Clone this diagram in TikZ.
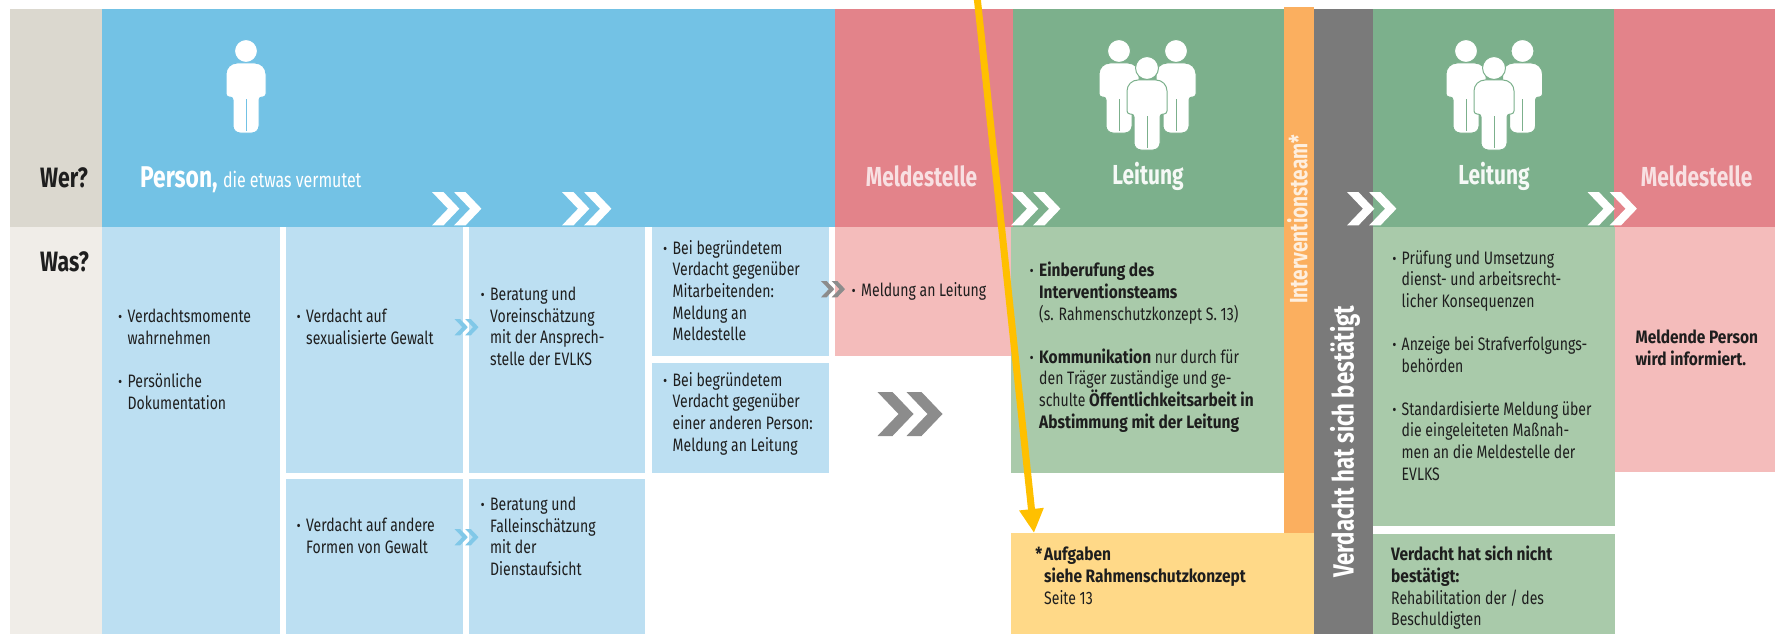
\documentclass[tikz,border=0pt]{standalone}
\usepackage{fontspec}
\setmainfont[FakeStretch=0.78, BoldFeatures={FakeStretch=0.86}]{Fira Sans}
\newfontfamily\labelfont[FakeStretch=0.76]{Fira Sans}
\usetikzlibrary{arrows.meta}

\definecolor{labeltop}{HTML}{DBD8CF}
\definecolor{labellow}{HTML}{F0EDE8}
\definecolor{blueband}{HTML}{73C2E5}
\definecolor{bluelight}{HTML}{BCDFF2}
\definecolor{redband}{HTML}{E3838A}
\definecolor{redlight}{HTML}{F4BCBB}
\definecolor{greenband}{HTML}{7CB08C}
\definecolor{greenlight}{HTML}{A9CAAA}
\definecolor{orangeband}{HTML}{FBAF5F}
\definecolor{greyband}{HTML}{7A7A7A}
\definecolor{yellowbox}{HTML}{FFD988}
\definecolor{goldarrow}{HTML}{FFC000}
\definecolor{chevgrey}{HTML}{8C8C8C}
\definecolor{inktext}{HTML}{1E1E1E}

\newcommand{\bul}{\leavevmode\llap{\textbf{·}\hspace{5.5pt}}}

\tikzset{
	bodytext/.style={anchor=north west, inner sep=0pt, align=left, yshift=8pt, text=inktext,
		font=\fontsize{18}{21.6}\selectfont, execute at begin node=\strut},
	asklabel/.style={anchor=west, inner sep=0pt, text=inktext, font=\labelfont\fontsize{28}{30}\selectfont\bfseries},
	bandlabel/.style={inner sep=0pt, text=white, font=\labelfont\fontsize{27.5}{30}\selectfont\bfseries},
	sidelabel/.style={rotate=90, anchor=west, inner sep=0pt, text=white, font=\labelfont\fontsize{25}{28}\selectfont\bfseries},
	pics/person/.style={code={
		\filldraw[white, draw=#1, line width=1pt] (-20,46) [rounded corners=11pt] -- (-20,12) -- (20,12) [rounded corners=3pt] -- (20,46) -- (13,46) [rounded corners=7pt] -- (13,82) -- (-13,82) [rounded corners=3pt] -- (-13,46) -- cycle;
		\draw[#1, line width=0.8pt] (0,48) -- (0,80);
		\filldraw[white, draw=#1, line width=1pt] (0,0) circle (11.5);
	}},
	pics/chevrons/.style={code={
		\foreach \s in {0, 29}
			\fill[#1] (\s,0) -- ++(15,0) -- ++(21,22) -- ++(-21,22) -- ++(-15,0) -- ++(21,-22) -- cycle;
	}}
}

\begin{document}
\begin{tikzpicture}[x=1pt, y=-1pt]
	\useasboundingbox (0,0) rectangle (1775,634);

	\fill[labeltop] (10,9) rectangle +(92,218);
	\fill[labellow] (10,227) rectangle +(92,407);
	\fill[blueband] (102,9) rectangle +(733,218);
	\foreach \px/\pw in {835/178, 1614/161}
		\fill[redband] (\px,9) rectangle +(\pw,218);
	\foreach \px/\pw in {1012.5/272, 1373/241}
		\fill[greenband] (\px,9) rectangle +(\pw,218);
	\foreach \px/\py/\pw/\ph in {102/227/177.5/407, 285.5/227/177.5/246, 469/227/176/246, 285.5/479/177.5/155, 469/479/176/155, 652/227/177/129, 652/363/177/110}
		\fill[bluelight] (\px,\py) rectangle +(\pw,\ph);
	\foreach \px/\pw/\ph in {835/176/129, 1614/161/245}
		\fill[redlight] (\px,227) rectangle +(\pw,\ph);
	\foreach \px/\py/\pw/\ph in {1011/227/273/246, 1373/227/241.5/299, 1373/534/241.5/100}
		\fill[greenlight] (\px,\py) rectangle +(\pw,\ph);
	\fill[orangeband] (1284,7) rectangle +(30,527);
	\fill[greyband] (1314,9) rectangle +(59,625);
	\node (aufgabenbox) [anchor=north west, inner sep=0pt, outer sep=0pt, fill=yellowbox, minimum width=303pt, minimum height=101pt] at (1011,533) {};

	\pic at (246,51) {person=blueband};
	\foreach \px/\py in {1119/51, 1176/51, 1147/68}
		\pic at (\px,\py) {person=greenband};
	\foreach \px/\py in {1466/51, 1522.5/51, 1494/68}
		\pic at (\px,\py) {person=greenband};

	\foreach \px in {432, 562, 1011, 1347, 1587.5}
		\pic[scale=0.76] at (\px,192) {chevrons=white};
	\foreach \py in {319, 529}
		\pic[scale=0.37] at (454.5,\py) {chevrons=blueband!90!white};
	\pic[scale=0.37] at (821,281) {chevrons=chevgrey};
	\pic at (877.5,392) {chevrons=chevgrey};

	\node (wer) [asklabel] at (40,178) {Wer?};
	\node (was) [asklabel] at (40,262) {Was?};
	\node (person) [bandlabel, anchor=base west, font=\labelfont\fontsize{30}{32}\selectfont\bfseries] at (140,187) {Person, \fontsize{21}{24}\selectfont\mdseries die etwas vermutet};
	\node (meldung) [bandlabel, text=white!75!redband] at (921.5,176) {Meldestelle};
	\node (leitung) [bandlabel, text=white!92!greenband] at (1148,176) {Leitung};
	\node (leitungb) [bandlabel, text=white!92!greenband] at (1494,176) {Leitung};
	\node (meldungb) [bandlabel, text=white!75!redband] at (1696.6,176) {Meldestelle};
	\node (team) [sidelabel, text=white!80!orangeband] at (1297.5,304) {Interventionsteam*};
	\node (bestaetigt) [sidelabel, font=\labelfont\fontsize{29.2}{32}\selectfont\bfseries] at (1345,578) {Verdacht hat sich bestätigt};

	\node (wahrnehmen) [bodytext] at (127.5,317) {\bul Verdachtsmomente\\wahrnehmen\\[21.6pt]\bul Persönliche\\Dokumentation};
	\node (sexuell) [bodytext] at (306,317) {\bul Verdacht auf\\sexualisierte Gewalt};
	\node (andere) [bodytext] at (306,526) {\bul Verdacht auf andere\\Formen von Gewalt};
	\node (beratung) [bodytext] at (490,295) {\bul Beratung und\\Voreinschätzung\\mit der Ansprech-\\stelle der EVLKS};
	\node (aufsicht) [bodytext] at (490,505) {\bul Beratung und\\Falleinschätzung\\mit der\\Dienstaufsicht};
	\node (mitarbeit) [bodytext] at (672.5,248) {\bul Bei begründetem\\Verdacht gegenüber\\Mitarbeitenden:\\Meldung an\\Meldestelle};
	\node (andereperson) [bodytext] at (672.5,380) {\bul Bei begründetem\\Verdacht gegenüber\\einer anderen Person:\\Meldung an Leitung};
	\node (anleitung) [bodytext] at (861,289) {\bul Meldung an Leitung};
	\node (einberufung) [bodytext] at (1039,270) {\bul\textbf{Einberufung des}\\\textbf{Interventionsteams}\\(s. Rahmenschutzkonzept S. 13)\\[21.6pt]\bul\textbf{Kommunikation} nur durch für\\den Träger zuständige und ge-\\schulte \textbf{Öffentlichkeitsarbeit in}\\\textbf{Abstimmung mit der Leitung}};
	\node (aufgaben) [bodytext] at (1044,555) {\leavevmode\llap{\textbf{*}\hspace{2pt}}\textbf{Aufgaben}\\\textbf{siehe Rahmenschutzkonzept}\\Seite 13};
	\node (pruefung) [bodytext] at (1401.5,258) {\bul Prüfung und Umsetzung\\dienst- und arbeitsrecht-\\licher Konsequenzen\\[21.6pt]\bul Anzeige bei Strafverfolgungs-\\behörden\\[21.6pt]\bul Standardisierte Meldung über\\die eingeleiteten Maßnah-\\men an die Meldestelle der\\EVLKS};
	\node (nicht) [bodytext] at (1391,554) {\textbf{Verdacht hat sich nicht}\\\textbf{bestätigt:}\\Rehabilitation der / des\\Beschuldigten};
	\node (informiert) [bodytext] at (1635.4,338) {\textbf{Meldende Person}\\\textbf{wird informiert.}};

	\coordinate (pfeilstart) at (977,-4);
	\coordinate (pfeilende) at ([xshift=23pt]aufgabenbox.north west);
	\draw[goldarrow, line width=7pt, -{Triangle[width=23pt, length=24pt]}] (pfeilstart) -- (pfeilende);
\end{tikzpicture}
\end{document}
